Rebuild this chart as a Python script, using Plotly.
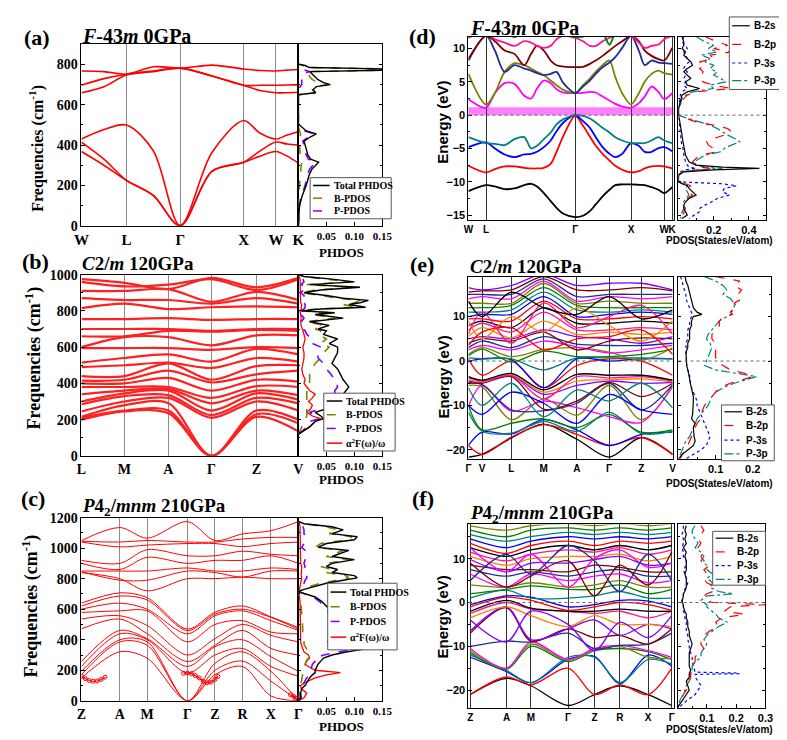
import plotly.graph_objects as go

W, H = 787, 740
SERIF = "Liberation Serif"
SANS = "Liberation Sans"

# ===================== DATA =====================
# ---- (a) F-43m 0GPa phonon bands ----
a_k = [0, 23, 46, 73.5, 101, 133.5, 166, 182.5, 199, 210.5, 222]
a_hs = [0, 46, 101, 166, 199, 222]
a_lab = ["W", "L", "Γ", "X", "W", "K"]
a_bands = [
    [368, 300, 225, 150, 0, 270, 315, 345, 368, 345, 310],
    [415, 330, 225, 150, 0, 270, 315, 370, 415, 405, 400],
    [430, 477, 500, 372, 0, 363, 522, 460, 430, 450, 468],
    [660, 690, 748, 765, 782, 743, 697, 671, 660, 660, 662],
    [697, 730, 752, 768, 782, 743, 697, 697, 697, 698, 700],
    [768, 765, 752, 789, 782, 797, 778, 770, 768, 772, 775],
]
a_freq = [0, 100, 150, 200, 250, 280, 300, 315, 330, 350, 380, 400, 420, 440, 456, 470, 490, 505, 650, 660,
          675, 690, 700, 710, 725, 740, 755, 765, 772, 778, 785, 795, 802]
a_tot = [0, 0.002, 0.007, 0.014, 0.019, 0.024, 0.031, 0.036, 0.022, 0.017, 0.014, 0.012, 0.01, 0.021, 0.032, 0.014,
         0.005, 0, 0, 0.031, 0.026, 0.032, 0.057, 0.045, 0.035, 0.03, 0.025, 0.02, 0.16, 0.16, 0.02, 0.012, 0]
a_B = [0, 0, 0.001, 0.002, 0.003, 0.004, 0.005, 0.006, 0.004, 0.003, 0.002, 0.002, 0.002, 0.003, 0.004, 0.002,
       0.001, 0, 0, 0.03, 0.025, 0.03, 0.05, 0.035, 0.025, 0.02, 0.018, 0.015, 0.16, 0.16, 0.015, 0.008, 0]
a_P = [0, 0.002, 0.006, 0.012, 0.016, 0.02, 0.026, 0.03, 0.018, 0.014, 0.012, 0.01, 0.008, 0.018, 0.028, 0.012,
       0.004, 0, 0, 0.001, 0.002, 0.003, 0.006, 0.006, 0.006, 0.006, 0.01, 0.02, 0.012, 0.008, 0.006, 0.004, 0]

# ---- (b) C2/m 120GPa phonon bands ----
b_k = [0, 44, 89, 133, 179, 222]
b_lab = ["L", "M", "A", "Γ", "Z", "V"]
b_bands = [
    [200, 245, 235, 0, 215, 135], [210, 250, 250, 0, 230, 180], [215, 280, 290, 0, 250, 200],
    [245, 300, 320, 210, 300, 250], [285, 330, 335, 225, 320, 290], [300, 345, 360, 250, 345, 310],
    [340, 360, 370, 290, 360, 335], [380, 380, 380, 320, 385, 380], [400, 400, 430, 360, 420, 410],
    [415, 420, 470, 405, 450, 470], [440, 440, 510, 420, 495, 500], [490, 500, 515, 485, 540, 520],
    [515, 540, 560, 520, 590, 560], [595, 595, 595, 585, 600, 595], [600, 655, 655, 610, 665, 665],
    [660, 660, 690, 685, 695, 690], [700, 700, 700, 690, 700, 700], [755, 755, 760, 750, 755, 755],
    [815, 840, 810, 820, 825, 820], [870, 860, 860, 840, 870, 840], [910, 910, 920, 850, 905, 860],
    [960, 935, 945, 975, 915, 975], [975, 955, 920, 982, 930, 982],
]
b_freq = [120, 140, 160, 190, 205, 220, 240, 260, 280, 300, 320, 340, 360, 380, 400, 420, 450, 480, 510, 540,
          570, 600, 620, 645, 670, 690, 700, 720, 740, 760, 780, 790, 800, 810, 820, 835, 845, 858, 870, 885,
          900, 915, 930, 945, 960, 975, 990, 1000]
b_tot = [0, 0.01, 0.02, 0.03, 0.045, 0.04, 0.03, 0.05, 0.065, 0.07, 0.075, 0.08, 0.085, 0.09, 0.085, 0.08, 0.075,
         0.07, 0.06, 0.065, 0.07, 0.07, 0.055, 0.07, 0.045, 0.05, 0.035, 0.055, 0.02, 0.08, 0.03, 0.065, 0.005,
         0.04, 0.12, 0.09, 0.11, 0.125, 0.08, 0.05, 0.01, 0.04, 0.11, 0.02, 0.1, 0.06, 0.01, 0]
b_B = [0, 0.003, 0.005, 0.01, 0.012, 0.015, 0.015, 0.015, 0.015, 0.015, 0.015, 0.015, 0.015, 0.015, 0.02, 0.02,
       0.02, 0.025, 0.03, 0.04, 0.045, 0.055, 0.04, 0.05, 0.035, 0.04, 0.03, 0.045, 0.015, 0.065, 0.025, 0.06,
       0.003, 0.03, 0.105, 0.08, 0.1, 0.11, 0.07, 0.04, 0.006, 0.03, 0.095, 0.015, 0.09, 0.05, 0.008, 0]
b_P = [0, 0.007, 0.015, 0.02, 0.037, 0.03, 0.02, 0.04, 0.05, 0.055, 0.06, 0.065, 0.065, 0.07, 0.068, 0.065, 0.058,
       0.05, 0.045, 0.035, 0.035, 0.04, 0.025, 0.025, 0.015, 0.012, 0.008, 0.01, 0.005, 0.01, 0.005, 0.008, 0.002,
       0.01, 0.012, 0.012, 0.01, 0.015, 0.01, 0.01, 0.004, 0.01, 0.015, 0.005, 0.01, 0.008, 0.002, 0]
b_R = [0, 0.01, 0.02, 0.03, 0.04, 0.025, 0.015, 0.022, 0.025, 0.018, 0.025, 0.03, 0.02, 0.015, 0.01, 0.012, 0.008,
       0.006, 0.008, 0.01, 0.01, 0.008, 0.01, 0.012, 0.01, 0.008, 0.006, 0.005, 0.004, 0.005, 0.004, 0.003, 0.003,
       0.005, 0.005, 0.006, 0.004, 0.004, 0.004, 0.003, 0.003, 0.003, 0.004, 0.003, 0.003, 0.003, 0.001, 0]

# ---- (c) P4_2/mnm 210GPa phonon bands ----
c_k = [0, 39, 67, 108, 136, 164, 193, 221]
c_lab = ["Z", "A", "M", "Γ", "Z", "R", "X", "Γ"]
c_bands = [
    [150, 321, 279, 0, 171, 225, 32, 0], [171, 386, 364, 0, 200, 260, 129, 0], [193, 400, 386, 0, 246, 321, 193, 0],
    [225, 439, 400, 182, 300, 343, 225, 161], [257, 461, 407, 225, 354, 400, 289, 193],
    [471, 536, 439, 257, 364, 461, 343, 300], [536, 557, 493, 300, 407, 500, 429, 386],
    [579, 589, 589, 386, 500, 525, 450, 439], [600, 640, 600, 439, 557, 589, 525, 461],
    [621, 686, 660, 460, 568, 600, 546, 470], [640, 707, 675, 470, 580, 621, 550, 480],
    [840, 800, 720, 800, 800, 810, 800, 800], [845, 790, 790, 850, 840, 810, 850, 850],
    [850, 850, 850, 870, 850, 850, 870, 860], [900, 860, 940, 900, 920, 920, 950, 900],
    [920, 900, 990, 950, 950, 980, 960, 950], [1040, 1008, 1020, 1030, 1030, 1010, 1030, 1040],
    [1045, 1040, 1050, 1040, 1040, 1060, 1070, 1070], [1050, 1135, 1065, 1174, 1050, 1093, 1114, 1174],
]
c_lam_k = [0, 4, 8, 12, 16, 20, 24, None, 104, 108, 112, 116, 120, 124, 128, 132, 136, 139, None, 213, 216, 218, 221]
c_lam_f = [160, 145, 133, 128, 130, 140, 155, None, 180, 182, 178, 165, 150, 128, 118, 122, 140, 160, None, 40, 30, 18, 4]
c_freq = [0, 20, 50, 80, 100, 120, 150, 170, 185, 200, 220, 240, 260, 280, 300, 320, 340, 355, 370, 390, 410, 430,
          450, 480, 510, 540, 560, 590, 620, 650, 680, 700, 715, 730, 750, 770, 790, 805, 820, 840, 860, 880, 900,
          925, 945, 960, 985, 1005, 1030, 1055, 1075, 1095, 1120, 1140, 1160, 1175]
c_tot = [0, 0.005, 0.004, 0.006, 0.012, 0.015, 0.02, 0.025, 0.03, 0.03, 0.032, 0.035, 0.04, 0.045, 0.06, 0.085, 0.12,
         0.085, 0.07, 0.06, 0.065, 0.07, 0.065, 0.065, 0.07, 0.065, 0.06, 0.058, 0.05, 0.042, 0.03, 0.01, 0, 0.01,
         0.03, 0.05, 0.08, 0.105, 0.1, 0.06, 0.07, 0.05, 0.06, 0.1, 0.06, 0.07, 0.09, 0.035, 0.05, 0.1, 0.105, 0.06,
         0.08, 0.06, 0.01, 0]
c_B = [0, 0.001, 0.001, 0.002, 0.004, 0.005, 0.006, 0.008, 0.008, 0.009, 0.01, 0.012, 0.014, 0.018, 0.02, 0.018,
       0.015, 0.012, 0.01, 0.01, 0.008, 0.008, 0.008, 0.008, 0.008, 0.007, 0.006, 0.006, 0.005, 0.004, 0.003, 0.001,
       0, 0.008, 0.02, 0.04, 0.07, 0.09, 0.085, 0.05, 0.06, 0.04, 0.05, 0.09, 0.05, 0.06, 0.08, 0.03, 0.04, 0.09,
       0.095, 0.055, 0.07, 0.05, 0.008, 0]
c_P = [0, 0.004, 0.003, 0.004, 0.008, 0.01, 0.015, 0.02, 0.022, 0.022, 0.024, 0.025, 0.03, 0.03, 0.045, 0.07, 0.1,
       0.07, 0.06, 0.05, 0.055, 0.06, 0.058, 0.057, 0.062, 0.058, 0.055, 0.052, 0.045, 0.038, 0.027, 0.01, 0, 0.002,
       0.008, 0.01, 0.012, 0.015, 0.015, 0.01, 0.01, 0.012, 0.01, 0.012, 0.01, 0.012, 0.012, 0.006, 0.01, 0.012,
       0.012, 0.01, 0.01, 0.008, 0.003, 0]
c_R = [0, 0.01, 0.015, 0.005, 0.004, 0.012, 0.03, 0.05, 0.075, 0.03, 0.02, 0.012, 0.015, 0.02, 0.018, 0.01, 0.008,
       0.006, 0.005, 0.004, 0.004, 0.004, 0.003, 0.003, 0.003, 0.003, 0.003, 0.003, 0.003, 0.003, 0.002, 0.002,
       0.001, 0.002, 0.003, 0.004, 0.005, 0.006, 0.005, 0.005, 0.005, 0.006, 0.004, 0.004, 0.004, 0.003, 0.004,
       0.003, 0.003, 0.004, 0.004, 0.003, 0.003, 0.003, 0.002, 0]

# ---- (d) F-43m 0GPa electronic bands ----
d_k = [0, 18, 27, 37, 47, 57, 64, 70, 77, 84, 90, 97, 109, 117, 124, 130, 137, 144, 150, 157, 166, 174, 180, 187,
       194, 200, 208]
d_hs = [0, 18, 109, 166, 200, 208]
d_lab = ["W", "L", "Γ", "X", "W", "K"]
d_bands = [
    ("#000000", [-11.4, -10.5, -10.7, -11.1, -11.0, -10.5, -10.3, -10.7, -11.7, -12.9, -13.9, -14.8, -15.3, -15.1,
                 -14.4, -13.4, -12.2, -11.2, -10.5, -10.4, -10.4, -10.45, -10.5, -10.8, -11.2, -11.7, -10.8]),
    ("#FF0000", [-7.6, -8.6, -8.1, -7.7, -7.7, -7.9, -8.0, -8.0, -7.9, -7.3, -5.5, -3.1, -0.1, -1.6, -3.2, -4.6,
                 -5.8, -6.8, -7.6, -8.2, -8.6, -8.4, -8.0, -7.7, -7.6, -7.7, -8.0]),
    ("#0000FF", [-4.8, -4.1, -5.0, -5.9, -6.3, -5.9, -5.8, -5.5, -4.8, -3.8, -2.4, -1.1, 0.0, -0.9, -1.9, -3.3,
                 -4.8, -5.8, -6.3, -5.8, -4.2, -4.6, -5.5, -5.5, -4.95, -4.8, -5.4]),
    ("#008080", [-3.3, -4.2, -4.3, -4.5, -3.6, -3.3, -5.0, -4.6, -3.6, -2.6, -1.4, -0.6, 0.0, -0.1, -0.5, -1.1,
                 -1.9, -2.6, -3.3, -3.8, -4.2, -4.2, -4.2, -3.8, -3.3, -3.8, -4.2]),
    ("#FF00FF", [2.4, 1.1, 3.3, 4.8, 4.7, 2.9, 2.5, 4.0, 5.2, 4.8, 3.9, 3.4, 3.3, 3.35, 3.5, 3.4, 2.8, 2.2, 1.7,
                 1.3, 1.1, 1.8, 2.8, 4.3, 3.5, 2.4, 3.3]),
    ("#808000", [6.2, 1.6, 3.3, 6.5, 7.8, 7.5, 7.0, 6.5, 6.0, 5.2, 4.5, 3.8, 3.3, 4.5, 5.5, 6.5, 7.5, 8.2, 5.7, 3.3,
                 1.6, 3.3, 5.0, 6.2, 6.7, 6.3, 6.1]),
    ("#1F2F8F", [8.2, 11.9, 9.7, 6.5, 7.5, 7.0, 6.7, 6.3, 6.0, 6.2, 6.5, 4.8, 3.3, 4.3, 5.2, 6.2, 7.2, 7.9, 8.7,
                 10.1, 11.9, 9.7, 7.5, 8.2, 7.9, 7.8, 7.7]),
    ("#800000", [8.4, 11.9, 11.1, 9.7, 9.2, 7.5, 9.2, 10.4, 9.7, 8.2, 7.5, 7.3, 7.2, 7.25, 7.7, 8.2, 8.9, 9.7, 10.4,
                 11.1, 11.9, 11.1, 9.7, 8.9, 8.4, 8.2, 10.1]),
    ("#FF1493", [11.6, 12.5, 11.4, 10.9, 10.4, 11.1, 10.9, 10.4, 10.1, 10.4, 11.4, 11.9, 11.6, 11.1, 10.4, 10.4,
                 11.1, 11.6, 11.9, 11.9, 11.9, 10.9, 10.1, 10.4, 10.6, 11.4, 11.9]),
    ("#008000", [13, 13, None, 12.5, 11.7, 12.5, None, None, None, None, None, 12.3, 11.7, 11.8, None, None, 12.2,
                 10.6, 12.2, None, 13, None, None, None, None, 13, 13]),
]
d_E = [11.8, 11, 10.5, 10, 9.5, 9, 8.5, 8, 7.5, 7, 6.5, 6, 5.5, 5, 4.5, 4, 3.5, 3, 2.5, 2, 1.5, 1.2, 1.0, 0.5, 0,
       -0.3, -0.6, -1, -1.5, -2, -2.5, -3, -3.5, -4, -4.5, -5, -5.5, -6, -6.5, -7, -7.5, -7.8, -8, -8.2, -8.5, -9,
       -9.5, -10, -10.3, -10.6, -11, -11.5, -12, -12.5, -13, -13.5, -14, -14.5, -15, -15.5]
d_2s = [0.02, 0.03, 0.03, 0.02, 0.04, 0.03, 0.05, 0.07, 0.08, 0.05, 0.03, 0.05, 0.07, 0.04, 0.05, 0.12, 0.05, 0.02,
        0.015, 0.01, 0.005, 0, 0, 0, 0, 0.002, 0.005, 0.008, 0.01, 0.012, 0.015, 0.02, 0.022, 0.025, 0.028, 0.03,
        0.035, 0.04, 0.05, 0.06, 0.1, 0.25, 0.46, 0.2, 0.03, 0, 0, 0, 0.02, 0.05, 0.06, 0.08, 0.1, 0.06, 0.04, 0.03,
        0.03, 0.04, 0.05, 0.02]
d_2p = [0.15, 0.22, 0.28, 0.2, 0.3, 0.18, 0.2, 0.12, 0.15, 0.12, 0.14, 0.13, 0.12, 0.14, 0.2, 0.3, 0.1, 0.05, 0.03,
        0.02, 0.01, 0, 0, 0, 0, 0.02, 0.05, 0.1, 0.2, 0.28, 0.3, 0.26, 0.2, 0.16, 0.17, 0.2, 0.22, 0.12, 0.1, 0.08,
        0.1, 0.12, 0.18, 0.1, 0.02, 0, 0, 0, 0.04, 0.07, 0.05, 0.06, 0.08, 0.05, 0.03, 0.03, 0.04, 0.03, 0.03, 0.01]
d_3s = [0.03, 0.02, 0.04, 0.05, 0.03, 0.04, 0.05, 0.06, 0.04, 0.03, 0.05, 0.04, 0.03, 0.04, 0.03, 0.05, 0.02, 0.01,
        0.01, 0.005, 0.003, 0, 0, 0, 0, 0.001, 0.002, 0.004, 0.006, 0.008, 0.01, 0.012, 0.014, 0.016, 0.02, 0.025,
        0.03, 0.03, 0.035, 0.04, 0.05, 0.06, 0.1, 0.04, 0.01, 0, 0, 0, 0.25, 0.33, 0.26, 0.25, 0.29, 0.22, 0.19, 0.15,
        0.12, 0.12, 0.09, 0.06]
d_3p = [0.1, 0.15, 0.2, 0.17, 0.22, 0.13, 0.18, 0.15, 0.2, 0.18, 0.22, 0.2, 0.24, 0.27, 0.18, 0.2, 0.08, 0.04, 0.02,
        0.015, 0.01, 0, 0, 0, 0, 0.03, 0.07, 0.12, 0.18, 0.22, 0.25, 0.28, 0.32, 0.35, 0.3, 0.26, 0.24, 0.15, 0.12,
        0.09, 0.1, 0.15, 0.25, 0.12, 0.02, 0, 0, 0, 0.03, 0.05, 0.04, 0.05, 0.06, 0.04, 0.03, 0.03, 0.03, 0.02, 0.02,
        0.01]

# ---- (e) C2/m 120GPa electronic bands ----
e_k = [0, 14, 44, 77, 111, 144, 177, 209]
e_lab = ["Γ", "V", "L", "M", "A", "Γ", "Z", "V"]
e_bands = [
    [-21.6, -21.0, -17.3, -14.2, -17.6, -21.6, -17.2, -21.0], [-19.0, -21.0, -17.1, -14.3, -16.5, -19.0, -17.2, -21.0],
    [-19.0, -16.0, -16.4, -13.2, -15.5, -19.0, -16.5, -16.0], [-11.5, -15.8, -16.2, -13.6, -15.8, -11.5, -16.3, -15.8],
    [-10.0, -15.5, -14.0, -13.0, -15.0, -12.0, -16.0, -15.5], [-5.5, -5.8, -13.2, -8.5, -12.2, -5.5, -13.2, -5.8],
    [-10.2, -5.5, -11.3, -9.0, -10.5, -12.5, -13.8, -5.5], [-5.0, -5.3, -11.0, -11.2, -9.5, -5.0, -11.0, -5.3],
    [-4.8, -5.0, -3.5, -10.8, -9.0, -4.8, -8.0, -5.0], [-4.5, -4.8, -3.3, -7.5, -5.5, -4.5, -5.0, -4.8],
    [-4.2, -4.7, -3.0, -7.0, -4.5, -4.2, -4.0, -4.7], [-3.8, -4.5, -3.3, -8.5, -3.5, -3.8, -3.5, -4.5],
    [-3.5, -4.3, -2.8, -6.5, -3.0, -3.2, -3.2, -4.3], [0.5, -3.2, 0.0, -6.0, -1.0, 0.5, 0.0, -3.2],
    [0.0, 0.5, 0.3, -6.0, 0.5, 0.0, 0.5, 0.5], [0.7, 0.5, 0.5, -2.0, 0.7, 0.7, 0.7, 0.5],
    [1.2, 2.7, -0.2, 2.2, 1.0, 1.0, 1.5, 2.7], [1.5, 3.0, 1.0, 2.6, 3.0, 2.0, 0.2, 3.0],
    [2.5, 3.5, 2.5, 4.5, 3.2, 1.8, 2.5, 3.5], [3.0, 4.5, 3.0, 5.5, 3.8, 3.5, 3.5, 4.0],
    [4.0, 5.0, 4.5, 6.5, 2.5, 4.5, 5.2, 5.0], [5.0, 5.5, 5.0, 7.0, 5.5, 5.0, 4.0, 5.5],
    [5.5, 7.5, 5.2, 9.0, 6.0, 6.5, 6.0, 6.5], [7.0, 8.5, 6.5, 11.0, 7.0, 7.0, 7.5, 7.0],
    [8.0, 9.0, 7.5, 12.0, 8.5, 8.5, 9.0, 8.5], [9.5, 9.5, 9.0, 13.5, 9.5, 9.5, 10.0, 9.5],
    [10.0, 10.5, 10.5, 14.5, 10.0, 10.5, 11.0, 10.5], [11.0, 11.0, 11.5, 15.5, 11.5, 11.0, 11.5, 11.0],
    [12.0, 12.0, 12.5, 16.5, 12.5, 12.0, 12.0, 12.0], [13.0, 13.0, 13.0, 17.5, 13.0, 13.5, 13.0, 13.0],
    [14.0, 14.5, 14.0, 18.0, 13.5, 14.5, 14.0, 14.5], [15.0, 15.0, 15.0, 18.5, 14.5, 15.0, 15.0, 15.0],
    [15.5, 15.8, 16.0, 19.0, 16.0, 16.0, 16.5, 15.8], [16.5, 16.0, 17.0, 19.5, 17.0, 17.5, 17.5, 16.0],
    [9.0, 5.0, 10.0, 6.5, 12.0, 8.0, 4.5, 9.0], [6.0, 11.0, 4.0, 13.0, 7.5, 10.0, 12.5, 6.0],
    [13.5, 10.0, 15.5, 12.0, 10.5, 14.5, 9.5, 11.5], [3.5, 6.5, 7.5, 2.5, 5.0, 5.5, 7.0, 1.5],
    [-10.0, -12.0, -7.0, -9.5, -14.0, -7.5, -11.0, -12.0], [-6.0, -10.0, -5.0, -12.5, -6.5, -9.0, -5.0, -10.5],
]
e_E = [19, 18, 17, 16, 15, 14, 13, 12, 11, 10.5, 10, 9, 8, 7, 6, 5, 4, 3, 2, 1, 0, -1, -2, -3, -3.5, -4, -5, -6, -7,
       -8, -9, -10, -11, -12, -13, -14, -15, -16, -17, -18, -19, -20, -21, -22]
e_2s = [0.018, 0.02, 0.025, 0.028, 0.03, 0.032, 0.035, 0.04, 0.05, 0.063, 0.04, 0.035, 0.035, 0.03, 0.03, 0.03,
        0.025, 0.025, 0.02, 0.02, 0.02, 0.022, 0.025, 0.028, 0.03, 0.03, 0.032, 0.035, 0.038, 0.04, 0.04, 0.04, 0.04,
        0.038, 0.035, 0.045, 0.04, 0.04, 0.042, 0.045, 0.04, 0.025, 0.01, 0]
e_2p = [0.10, 0.165, 0.15, 0.17, 0.16, 0.17, 0.15, 0.16, 0.14, 0.145, 0.12, 0.11, 0.11, 0.1, 0.09, 0.09, 0.1, 0.1,
        0.1, 0.1, 0.1, 0.12, 0.14, 0.19, 0.2, 0.18, 0.14, 0.11, 0.1, 0.09, 0.08, 0.07, 0.065, 0.06, 0.06, 0.05,
        0.045, 0.04, 0.035, 0.03, 0.025, 0.02, 0.01, 0.005]
e_3s = [0.005, 0.01, 0.012, 0.015, 0.02, 0.02, 0.025, 0.03, 0.035, 0.037, 0.035, 0.03, 0.03, 0.025, 0.025, 0.025,
        0.02, 0.02, 0.02, 0.02, 0.02, 0.022, 0.025, 0.03, 0.03, 0.03, 0.032, 0.035, 0.04, 0.045, 0.05, 0.05, 0.055,
        0.06, 0.065, 0.07, 0.075, 0.08, 0.085, 0.08, 0.075, 0.06, 0.04, 0.02]
e_3p = [0.07, 0.10, 0.12, 0.13, 0.12, 0.14, 0.15, 0.15, 0.14, 0.145, 0.13, 0.11, 0.1, 0.09, 0.08, 0.075, 0.085,
        0.09, 0.085, 0.08, 0.075, 0.07, 0.1, 0.18, 0.21, 0.19, 0.15, 0.12, 0.1, 0.09, 0.085, 0.08, 0.07, 0.06, 0.05,
        0.045, 0.04, 0.035, 0.03, 0.02, 0.015, 0.01, 0.005, 0]

# ---- (f) P4_2/mnm 210GPa electronic bands ----
f_k = [2, 39, 64, 102, 129, 155, 184, 208]
f_lab = ["Z", "A", "M", "Γ", "Z", "R", "X", "Γ"]
f_bands = [
    [-21.0, -17.3, -19.0, -23.5, -21.0, -19.0, -21.0, -23.5], [-21.0, -17.0, -18.8, -15.0, -21.0, -18.8, -21.0, -15.0],
    [-12.5, -15.8, -18.3, -13.0, -12.3, -18.5, -12.0, -14.5], [-12.0, -15.5, -18.3, -12.5, -12.5, -18.3, -13.0, -14.0],
    [-11.5, -15.2, -10.0, -13.5, -11.0, -10.5, -11.2, -13.0], [-11.0, -15.0, -9.5, -13.2, -10.8, -10.0, -12.5, -12.8],
    [-10.5, -15.0, -9.0, -13.0, -10.5, -9.8, -11.0, -12.5], [-10.0, -8.8, -9.0, -7.0, -10.5, -9.8, -9.5, -7.0],
    [-7.0, -1.2, -8.8, -6.0, -8.0, -7.5, -9.5, -6.0], [-6.5, -1.0, -8.5, -6.0, -4.0, -7.5, -5.0, -6.0],
    [-3.5, -1.0, -3.0, -5.5, -3.0, -5.0, -5.0, -5.5], [-2.5, 0.0, -1.5, -2.0, -2.5, -2.0, -3.5, -2.0],
    [-2.0, 0.5, -1.3, -2.0, -2.0, -1.5, -2.0, -2.0], [-1.0, 1.2, 0.5, -1.8, -1.0, 0.0, -0.5, -1.8],
    [-0.5, 1.5, 1.2, -1.0, -0.5, 0.5, 0.3, -1.0], [1.0, 2.8, 1.0, 1.0, 1.5, 2.5, 1.0, 1.0],
    [2.0, 3.0, 3.8, 3.0, 3.0, 4.0, 2.0, 3.0], [4.0, 3.5, 4.5, 3.5, 4.0, 5.0, 3.5, 3.5],
    [6.5, 3.5, 6.5, 5.0, 6.0, 6.5, 4.5, 5.0], [7.5, 6.0, 7.0, 6.0, 7.0, 7.5, 6.0, 6.0],
    [8.5, 7.5, 7.5, 7.0, 8.5, 8.0, 7.0, 7.0], [9.8, 7.0, 9.0, 9.0, 9.8, 10.5, 8.5, 9.0],
    [10.5, 8.5, 10.0, 10.5, 10.5, 11.0, 9.5, 10.5], [11.5, 9.5, 11.0, 12.0, 11.5, 12.5, 11.0, 12.0],
    [12.5, 10.5, 12.0, 13.0, 12.0, 13.0, 12.0, 13.0], [13.5, 11.2, 13.0, 14.0, 13.0, 14.0, 13.5, 14.0],
    [14.5, 12.5, 14.0, 15.0, 14.5, 15.0, 14.5, 15.0], [15.5, 14.0, 15.0, 16.0, 15.5, 16.0, 15.5, 16.0],
    [16.5, 15.0, 16.5, 17.0, 16.5, 17.0, 16.5, 17.0], [17.5, 16.5, 17.5, 18.0, 17.5, 18.0, 17.5, 18.0],
    [12.5, 7.0, 11.0, 3.5, 10.0, 12.0, 8.0, 9.0], [5.0, 11.0, 6.5, 13.0, 9.5, 2.5, 11.0, 5.0],
    [9.0, 3.5, 6.0, 9.5, 1.5, 8.5, 4.0, 11.5], [-4.0, -9.0, -2.0, -5.0, -11.0, -4.5, -8.0, -3.0],
]
f_E = [17.5, 16.5, 15.5, 14.5, 13.5, 12.5, 11.5, 10.5, 9.5, 8.5, 7.5, 6.5, 5.5, 4.5, 3.5, 2.5, 2.0, 1.5, 0.5, 0,
       -0.5, -1, -2, -2.7, -3.5, -4.5, -5.5, -6.5, -7.5, -8.5, -9.5, -10.5, -11.5, -12.5, -13.5, -14.5, -15.5,
       -15.9, -16.1, -16.25, -16.4, -17, -18, -19, -20, -21, -22, -23, -24]
f_2s = [0.03, 0.025, 0.03, 0.025, 0.03, 0.02, 0.03, 0.025, 0.03, 0.03, 0.03, 0.025, 0.03, 0.03, 0.03, 0.025, 0.02,
        0.02, 0.015, 0.015, 0.02, 0.02, 0.025, 0.03, 0.03, 0.035, 0.035, 0.04, 0.04, 0.045, 0.05, 0.045, 0.04, 0.04,
        0.04, 0.04, 0.045, 0.04, 0.04, 0.04, 0.04, 0.04, 0.03, 0.035, 0.04, 0.03, 0.02, 0.01, 0]
f_2p = [0.08, 0.09, 0.08, 0.07, 0.08, 0.07, 0.09, 0.08, 0.09, 0.11, 0.09, 0.1, 0.09, 0.1, 0.13, 0.12, 0.1, 0.09, 0.1,
        0.12, 0.3, 0.18, 0.16, 0.23, 0.15, 0.13, 0.14, 0.11, 0.09, 0.08, 0.08, 0.09, 0.07, 0.06, 0.06, 0.05, 0.05,
        0.045, 0.045, 0.045, 0.045, 0.045, 0.04, 0.035, 0.03, 0.02, 0.01, 0.005, 0]
f_3s = [0.02, 0.02, 0.015, 0.02, 0.02, 0.015, 0.02, 0.02, 0.03, 0.03, 0.02, 0.025, 0.03, 0.035, 0.03, 0.02, 0.02,
        0.02, 0.015, 0.015, 0.02, 0.02, 0.02, 0.025, 0.025, 0.03, 0.03, 0.03, 0.035, 0.035, 0.04, 0.04, 0.045, 0.05,
        0.05, 0.055, 0.06, 0.06, 0.21, 0.21, 0.06, 0.06, 0.07, 0.08, 0.07, 0.06, 0.04, 0.02, 0.005]
f_3p = [0.06, 0.05, 0.05, 0.06, 0.07, 0.06, 0.08, 0.09, 0.08, 0.1, 0.1, 0.12, 0.1, 0.12, 0.11, 0.14, 0.19, 0.1,
        0.08, 0.09, 0.1, 0.1, 0.12, 0.13, 0.14, 0.17, 0.14, 0.12, 0.1, 0.09, 0.1, 0.09, 0.08, 0.08, 0.06, 0.05, 0.05,
        0.045, 0.045, 0.045, 0.045, 0.04, 0.04, 0.03, 0.025, 0.02, 0.01, 0.005, 0]

PALETTE = ["#000000", "#FF0000", "#0000FF", "#008080", "#008000", "#808000", "#FF00FF", "#1F2F8F",
           "#800000", "#8000FF", "#FF8000", "#FF1493"]

# ===================== FIGURE =====================
fig = go.Figure()
shapes, annotations = [], []


def fx(px):
    return px / W


def fy(py):
    return 1 - py / H


def add_line(xa, ya, x, y, color, width, dash="solid", shape="linear"):
    ln = dict(color=color, width=width, dash=dash, shape=shape)
    if shape == "spline":
        ln["smoothing"] = 0.9
    fig.add_trace(go.Scatter(x=x, y=y, mode="lines", xaxis=xa, yaxis=ya, showlegend=False, hoverinfo="skip",
                             connectgaps=True, line=ln))


def text(t, x, y, size, family=SERIF, bold=True, xanchor="center", yanchor="middle", angle=0):
    annotations.append(dict(text=t, x=fx(x), y=fy(y), xref="paper", yref="paper", showarrow=False,
                            font=dict(family=family, size=size, color="black",
                                      weight="bold" if bold else "normal"),
                            xanchor=xanchor, yanchor=yanchor, textangle=angle))


def legend(box, rows, entries, family, size, lx0, lx1, tx):
    x0, y0, x1, y1 = box
    shapes.append(dict(type="rect", xref="paper", yref="paper", x0=fx(x0), x1=fx(x1), y0=fy(y1), y1=fy(y0),
                       fillcolor="white", line=dict(color="#555555", width=1), layer="above"))
    for (lab, col, dash, wd), ry in zip(entries, rows):
        shapes.append(dict(type="line", xref="paper", yref="paper", x0=fx(lx0), x1=fx(lx1), y0=fy(ry), y1=fy(ry),
                           line=dict(color=col, width=wd, dash=dash), layer="above"))
        text(lab, tx, ry, size, family=family, xanchor="left")


layout_axes = {}


def set_axes(n, xdom, ydom, xr, yr, xkw, ykw):
    xname = "xaxis" if n == 1 else f"xaxis{n}"
    yname = "yaxis" if n == 1 else f"yaxis{n}"
    base = dict(showline=True, linecolor="black", linewidth=1, mirror=True, zeroline=False, showgrid=False,
                ticks="inside", ticklen=4, tickcolor="black", tickangle=0)
    xd = dict(base, domain=[fx(xdom[0]), fx(xdom[1])], range=xr, anchor=("y" if n == 1 else f"y{n}"))
    xd.update(xkw)
    yd = dict(base, domain=[fy(ydom[1]), fy(ydom[0])], range=yr, anchor=("x" if n == 1 else f"x{n}"))
    yd.update(ykw)
    layout_axes[xname] = xd
    layout_axes[yname] = yd


def serif_font(size):
    return dict(family=SERIF, size=size, color="black", weight="bold")


def sans_font(size):
    return dict(family=SANS, size=size, color="black", weight="bold")


def band_x(tv, tt, font, grid):
    return dict(tickvals=tv, ticktext=tt, tickfont=font, showgrid=True, gridcolor=grid, gridwidth=1.2,
                ticks="", tickangle=0)


dos_x_phon = dict(tickvals=[0.05, 0.10, 0.15], ticktext=["0.05", "0.10", "0.15"], tickfont=serif_font(11))
dos_y = dict(showticklabels=False, mirror="ticks", ticklen=3)

# ---------- (a) ----------
set_axes(1, (67, 289), (30, 215), [0, 222], [0, 900],
         band_x(a_hs, a_lab, serif_font(15), "#8C8C8C"),
         dict(tickvals=[0, 200, 400, 600, 800], tickfont=serif_font(14),
              minor=dict(ticks="inside", ticklen=2, dtick=100)))
set_axes(2, (289, 375), (30, 215), [0, 0.15], [0, 900], dos_x_phon,
         dict(dos_y, minor=dict(ticks="inside", ticklen=2, dtick=100), dtick=200))
for b in a_bands:
    add_line("x", "y", a_k, b, "#FF0000", 1.6, shape="spline")
add_line("x2", "y2", a_B, a_freq, "#808000", 1.6, dash="dash")
add_line("x2", "y2", a_P, a_freq, "#8000FF", 1.6, dash="dash")
add_line("x2", "y2", a_tot, a_freq, "#000000", 1.4)

# ---------- (b) ----------
set_axes(3, (67, 289), (265, 450), [0, 222], [0, 1000],
         band_x(b_k, b_lab, serif_font(14), "#8C8C8C"),
         dict(tickvals=[0, 200, 400, 600, 800, 1000], tickfont=serif_font(14),
              minor=dict(ticks="inside", ticklen=2, dtick=100)))
set_axes(4, (289, 375), (265, 450), [0, 0.15], [0, 1000], dos_x_phon,
         dict(dos_y, minor=dict(ticks="inside", ticklen=2, dtick=100), dtick=200))
for b in b_bands:
    add_line("x3", "y3", b_k, b, "#FF2020", 2.2, shape="spline")
add_line("x4", "y4", b_R, b_freq, "#FF0000", 1.3)
add_line("x4", "y4", b_B, b_freq, "#808000", 1.6, dash="dash")
add_line("x4", "y4", b_P, b_freq, "#8000FF", 1.6, dash="dash")
add_line("x4", "y4", b_tot, b_freq, "#000000", 1.4)

# ---------- (c) ----------
set_axes(5, (67, 289), (513, 700), [0, 221], [0, 1200],
         band_x(c_k, c_lab, serif_font(14), "#8C8C8C"),
         dict(tickvals=[0, 200, 400, 600, 800, 1000, 1200], tickfont=serif_font(14),
              minor=dict(ticks="inside", ticklen=2, dtick=100)))
set_axes(6, (289, 375), (513, 700), [0, 0.15], [0, 1200], dos_x_phon,
         dict(dos_y, minor=dict(ticks="inside", ticklen=2, dtick=100), dtick=200))
for b in c_bands:
    add_line("x5", "y5", c_k, b, "#FF0000", 1.0, shape="spline")
fig.add_trace(go.Scatter(x=c_lam_k, y=c_lam_f, mode="lines+markers", xaxis="x5", yaxis="y5", showlegend=False,
                         hoverinfo="skip", line=dict(color="#FF0000", width=1.2, shape="spline"),
                         marker=dict(symbol="circle-open", size=4, color="#FF0000")))
add_line("x6", "y6", c_R, c_freq, "#FF0000", 1.3)
add_line("x6", "y6", c_B, c_freq, "#808000", 1.6, dash="dash")
add_line("x6", "y6", c_P, c_freq, "#8000FF", 1.6, dash="dash")
add_line("x6", "y6", c_tot, c_freq, "#000000", 1.4)

# ---------- (d) ----------
set_axes(7, (463, 673), (22, 209), [0, 209.5], [-15.7, 11.8],
         band_x(d_hs, d_lab, sans_font(10), "#333333"),
         dict(tickvals=[-15, -10, -5, 0, 5, 10], tickfont=sans_font(11),
              minor=dict(ticks="inside", ticklen=2, dtick=2.5)))
set_axes(8, (678, 768), (22, 209), [0, 0.5], [-15.7, 11.8],
         dict(tickvals=[0.2, 0.4], ticktext=["0.2", "0.4"], tickfont=sans_font(11),
              minor=dict(ticks="inside", ticklen=2, dtick=0.1)),
         dict(dos_y, dtick=5, minor=dict(ticks="inside", ticklen=2, dtick=2.5)))
shapes.append(dict(type="rect", xref="x7 domain", yref="y7", x0=0, x1=1, y0=0, y1=1.2,
                   fillcolor="#FF66FF", opacity=0.85, line=dict(width=0), layer="below"))
for col, b in d_bands:
    add_line("x7", "y7", d_k, b, col, 1.8, shape="spline")
add_line("x8", "y8", d_3s, d_E, "#0000FF", 1.2, dash="dot")
add_line("x8", "y8", d_3p, d_E, "#008080", 1.2, dash="dashdot")
add_line("x8", "y8", d_2p, d_E, "#FF0000", 1.2, dash="dash")
add_line("x8", "y8", d_2s, d_E, "#000000", 1.2)

# ---------- (e) ----------
set_axes(9, (463, 672), (267, 453), [0, 209], [-22, 19],
         band_x(e_k, e_lab, sans_font(10), "#333333"),
         dict(tickvals=[-20, -10, 0, 10], tickfont=sans_font(11),
              minor=dict(ticks="inside", ticklen=2, dtick=5)))
set_axes(10, (678, 773), (267, 453), [0, 0.25], [-22, 19],
         dict(tickvals=[0.1, 0.2], ticktext=["0.1", "0.2"], tickfont=sans_font(11),
              minor=dict(ticks="inside", ticklen=2, dtick=0.05)),
         dict(dos_y, dtick=10, minor=dict(ticks="inside", ticklen=2, dtick=5)))
for i, b in enumerate(e_bands):
    add_line("x9", "y9", e_k, b, PALETTE[i % len(PALETTE)], 1.3, shape="spline")
add_line("x10", "y10", e_3s, e_E, "#0000FF", 1.2, dash="dot")
add_line("x10", "y10", e_3p, e_E, "#008080", 1.2, dash="dashdot")
add_line("x10", "y10", e_2p, e_E, "#FF0000", 1.2, dash="dash")
add_line("x10", "y10", e_2s, e_E, "#000000", 1.2)

# ---------- (f) ----------
set_axes(11, (463, 673), (520, 707), [0, 210], [-24, 17.8],
         band_x(f_k, f_lab, sans_font(10), "#333333"),
         dict(tickvals=[-20, -10, 0, 10], tickfont=sans_font(11),
              minor=dict(ticks="inside", ticklen=2, dtick=5)))
set_axes(12, (677, 767), (520, 707), [0, 0.3], [-24, 17.8],
         dict(tickvals=[0.1, 0.2, 0.3], ticktext=["0.1", "0.2", "0.3"], tickfont=sans_font(11),
              minor=dict(ticks="inside", ticklen=2, dtick=0.05)),
         dict(dos_y, dtick=10, minor=dict(ticks="inside", ticklen=2, dtick=5)))
for i, b in enumerate(f_bands):
    add_line("x11", "y11", f_k, b, PALETTE[i % len(PALETTE)], 1.3, shape="spline")
add_line("x12", "y12", f_3s, f_E, "#0000FF", 1.2, dash="dot")
add_line("x12", "y12", f_3p, f_E, "#008080", 1.2, dash="dashdot")
add_line("x12", "y12", f_2p, f_E, "#FF0000", 1.2, dash="dash")
add_line("x12", "y12", f_2s, f_E, "#000000", 1.2)

# zero-energy dotted lines
for xa, ya in [("x7", "y7"), ("x8", "y8"), ("x9", "y9"), ("x10", "y10"), ("x11", "y11"), ("x12", "y12")]:
    shapes.append(dict(type="line", xref=f"{xa} domain", yref=ya, x0=0, x1=1, y0=0, y1=0,
                       line=dict(color="#666666", width=1, dash="dot"), layer="above"))

# ---------- text ----------
text("(a)", 21, 23, 22)
text("<i>F</i>-43<i>m</i> 0GPa", 66, 21, 20, xanchor="left")
text("(b)", 20, 252, 22)
text("<i>C</i>2/<i>m</i> 120GPa", 66, 254, 19, xanchor="left")
text("(c)", 17, 494, 22)
text("<i>P</i>4<sub>2</sub>/<i>mnm</i> 210GPa", 66, 502, 19, xanchor="left")
text("(d)", 416, 22, 22)
text("<i>F</i>-43<i>m</i> 0GPa", 463, 13, 20, xanchor="left")
text("(e)", 416, 255, 22)
text("<i>C</i>2/<i>m</i> 120GPa", 463, 257, 19, xanchor="left")
text("(f)", 417, 494, 22)
text("<i>P</i>4<sub>2</sub>/<i>mnm</i> 210GPa", 463, 509, 19, xanchor="left")

text("Frequencies (cm<sup>-1</sup>)", 21, 136, 16, angle=-90)
text("Frequencies (cm<sup>-1</sup>)", 18, 350, 18, angle=-90)
text("Frequencies (cm<sup>-1</sup>)", 15, 603, 18, angle=-90)
text("Energy (eV)", 437, 110, 15, family=SANS, angle=-90)
text("Energy (eV)", 437, 370, 15, family=SANS, angle=-90)
text("Energy (eV)", 437, 615, 15, family=SANS, angle=-90)

text("PHDOS", 333, 242, 13)
text("PHDOS", 333, 474, 13)
text("PHDOS", 333, 726, 13)
text("PDOS(States/eV/atom)", 720, 230, 10, family=SANS)
text("PDOS(States/eV/atom)", 720, 478, 10, family=SANS)
text("PDOS(States/eV/atom)", 720, 729, 10, family=SANS)

# ---------- legends ----------
legend((301, 166, 384, 208), [174, 187, 200],
       [("Total PHDOS", "#000000", "solid", 1.5), ("B-PDOS", "#808000", "dash", 1.5),
        ("P-PDOS", "#8000FF", "dash", 1.5)], SERIF, 10, 304, 321, 323)
legend((315, 386, 388, 445), [394, 408, 422, 437],
       [("Total PHDOS", "#000000", "solid", 1.5), ("B-PDOS", "#808000", "dash", 1.5),
        ("P-PDOS", "#8000FF", "dash", 1.5), ("α<sup>2</sup>F(ω)/ω", "#FF0000", "solid", 1.5)],
       SERIF, 10, 318, 334, 336)
legend((319, 580, 390, 648), [589, 604, 619, 635],
       [("Total PHDOS", "#000000", "solid", 1.5), ("B-PDOS", "#808000", "dash", 1.5),
        ("P-PDOS", "#8000FF", "dash", 1.5), ("α<sup>2</sup>F(ω)/ω", "#FF0000", "solid", 1.5)],
       SERIF, 10, 322, 338, 340)
elec = [("B-2s", "#000000", "solid", 1.2), ("B-2p", "#FF0000", "dash", 1.2),
        ("P-3s", "#0000FF", "dot", 1.2), ("P-3p", "#008080", "dashdot", 1.2)]
legend((730, 2, 784, 76), [11, 30, 49, 67], elec, SANS, 10, 733, 751, 753)
legend((722, 398, 776, 455), [405, 419, 434, 448], elec, SANS, 10, 725, 743, 745)
legend((713, 527, 767, 582), [534, 548, 562, 576], elec, SANS, 10, 716, 734, 736)

fig.update_layout(width=W, height=H, autosize=False, margin=dict(l=0, r=0, t=0, b=0),
                  paper_bgcolor="white", plot_bgcolor="white", showlegend=False,
                  shapes=shapes, annotations=annotations, **layout_axes)
fig.write_html("out.html")
